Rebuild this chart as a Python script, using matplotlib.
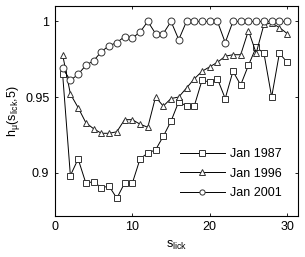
import matplotlib
matplotlib.use("Agg")
import matplotlib.pyplot as plt
import numpy as np

plt.rcParams['font.family'] = ['Liberation Sans', 'DejaVu Sans']
plt.rcParams['mathtext.fontset'] = 'custom'
plt.rcParams['mathtext.rm'] = 'Liberation Sans'
plt.rcParams['mathtext.it'] = 'Liberation Sans'
plt.rcParams['mathtext.default'] = 'regular'

# data
s_lick = np.arange(1, 31)
jan1987 = [0.965, 0.898, 0.909, 0.893, 0.894, 0.890, 0.891, 0.883, 0.893, 0.893,
           0.909, 0.913, 0.915, 0.924, 0.934, 0.947, 0.944, 0.944, 0.961, 0.960,
           0.962, 0.949, 0.967, 0.958, 0.971, 0.983, 0.979, 0.950, 0.979, 0.973]
jan1996 = [0.978, 0.952, 0.943, 0.933, 0.929, 0.926, 0.926, 0.927, 0.935, 0.935,
           0.932, 0.930, 0.950, 0.944, 0.949, 0.950, 0.956, 0.962, 0.967, 0.970,
           0.973, 0.977, 0.978, 0.978, 0.994, 0.979, 0.998, 0.999, 0.996, 0.992]
jan2001 = [0.969, 0.961, 0.965, 0.971, 0.974, 0.980, 0.984, 0.986, 0.990, 0.989,
           0.993, 1.000, 0.992, 0.992, 1.000, 0.988, 1.000, 1.000, 1.000, 1.000,
           1.000, 0.986, 1.000, 1.000, 1.000, 1.000, 1.000, 1.000, 1.000, 1.000]

fig = plt.figure(figsize=(3.05, 2.57), dpi=100)
ax = fig.add_axes([0.180, 0.161, 0.797, 0.816])

style = dict(color='black', lw=0.7, ms=5, mfc='white', mec='#333333', mew=0.7)
ax.plot(s_lick, jan1987, marker='s', label='Jan 1987', **style)
ax.plot(s_lick, jan1996, marker='^', label='Jan 1996', **style)
ax.plot(s_lick, jan2001, marker='o', label='Jan 2001', **style)

ax.set_xlim(0, 31.4)
ax.set_ylim(0.8715, 1.0103)
ax.set_xticks([0, 10, 20, 30])
ax.set_yticks([0.9, 0.95, 1])
ax.set_yticklabels(['0.9', '0.95', '1'])
ax.tick_params(direction='in', length=2.5, width=0.6, labelsize=9,
               top=True, right=True, pad=4)
for sp in ax.spines.values():
    sp.set_linewidth(0.8)

ax.set_xlabel('s$_{lick}$', fontsize=9, labelpad=4)
ax.set_ylabel(r'h$_\mu$(s$_{lick}$,5)', fontsize=9, labelpad=2)

ax.legend(loc='lower right', frameon=False, fontsize=9, handlelength=3.6,
          labelspacing=0.6, borderaxespad=0.9, handletextpad=0.4,
          markerscale=0.75)

fig.savefig('out.png', dpi=100)
